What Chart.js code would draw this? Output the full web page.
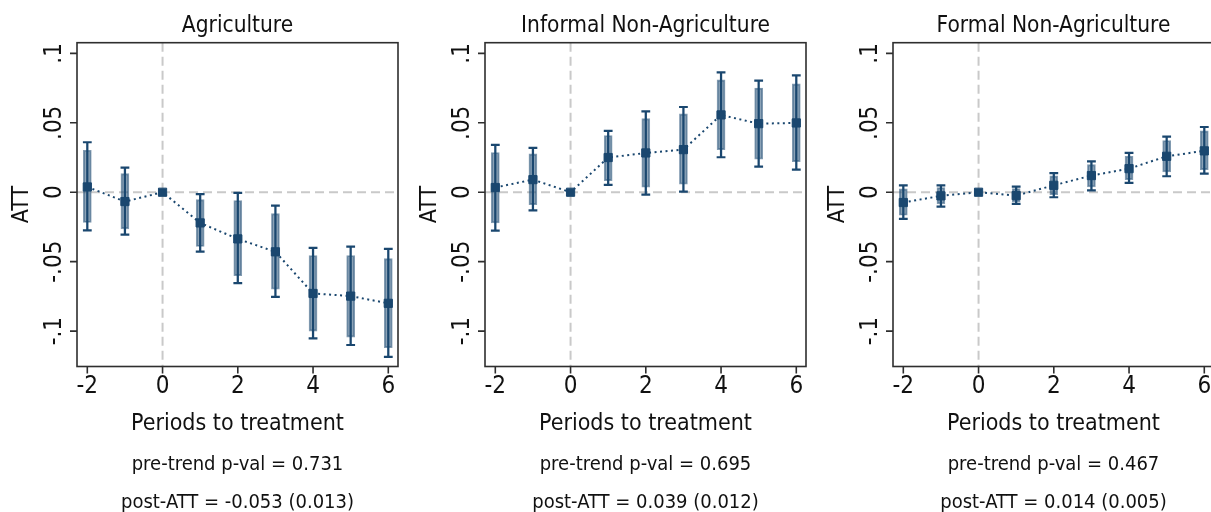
<!DOCTYPE html>
<html>
<head>
<meta charset="utf-8">
<title>Event-study estimates by sector</title>
<script src="https://cdn.jsdelivr.net/npm/chart.js@4.4.0/dist/chart.umd.min.js"></script>
<style>
  html, body { margin: 0; padding: 0; background: #fff; }
  #figure { position: relative; width: 1211px; height: 512px; overflow: hidden; background: #fff; }
  .panel { position: absolute; top: 0; width: 410px; height: 512px; }
</style>
</head>
<body>
<div id="figure">
  <div class="panel" style="left:0px"><canvas id="panel-agri"></canvas></div>
  <div class="panel" style="left:408px"><canvas id="panel-informal"></canvas></div>
  <div class="panel" style="left:816px"><canvas id="panel-formal"></canvas></div>
</div>
<script>
// event time (periods relative to treatment)
const periods = [-2, -1, 0, 1, 2, 3, 4, 5, 6];

// Agriculture
const agriAtt    = [0.0038, -0.0067, 0, -0.0221, -0.0336, -0.0429, -0.0729, -0.0748, -0.0800];
const agriCiLo   = [-0.0274, -0.0305, null, -0.0427, -0.0655, -0.0753, -0.1053, -0.1100, -0.1185];
const agriCiHi   = [0.0360, 0.0178, null, -0.0014, -0.0005, -0.0096, -0.0400, -0.0391, -0.0408];
const agriBandLo = [-0.0218, -0.0264, null, -0.0391, -0.0600, -0.0698, -0.1000, -0.1043, -0.1120];
const agriBandHi = [0.0302, 0.0134, null, -0.0053, -0.0060, -0.0154, -0.0456, -0.0456, -0.0478];

// Informal non-agriculture
const infAtt    = [0.0034, 0.0091, 0, 0.0250, 0.0283, 0.0307, 0.0557, 0.0494, 0.0499];
const infCiLo   = [-0.0276, -0.0130, null, 0.0053, -0.0017, 0.0005, 0.0252, 0.0185, 0.0163];
const infCiHi   = [0.0341, 0.0319, null, 0.0442, 0.0583, 0.0614, 0.0864, 0.0804, 0.0842];
const infBandLo = [-0.0221, -0.0089, null, 0.0084, 0.0036, 0.0058, 0.0307, 0.0238, 0.0221];
const infBandHi = [0.0286, 0.0276, null, 0.0408, 0.0530, 0.0564, 0.0809, 0.0751, 0.0780];

// Formal non-agriculture
const forAtt    = [-0.0074, -0.0026, 0, -0.0024, 0.0050, 0.0120, 0.0170, 0.0259, 0.0298];
const forCiLo   = [-0.0192, -0.0103, null, -0.0084, -0.0036, 0.0014, 0.0067, 0.0115, 0.0134];
const forCiHi   = [0.0050, 0.0050, null, 0.0041, 0.0137, 0.0223, 0.0283, 0.0400, 0.0470];
const forBandLo = [-0.0166, -0.0084, null, -0.0070, -0.0017, 0.0038, 0.0091, 0.0146, 0.0163];
const forBandHi = [0.0024, 0.0034, null, 0.0026, 0.0118, 0.0199, 0.0259, 0.0372, 0.0442];

// axes
const xTickValues = [-2, 0, 2, 4, 6];
const yTickValues = [-0.1, -0.05, 0, 0.05, 0.1];
const yTickLabels = ['-.1', '-.05', '0', '.05', '.1'];

const navy = '#1a476f';
const fontFamily = '"DejaVu Sans Condensed", "DejaVu Sans", sans-serif';

// frame, ticks, reference lines and all text, Stata style
const stataFrame = {
  id: 'stataFrame',
  beforeDatasetsDraw(chart) {
    const { ctx, chartArea: a, scales: { x, y } } = chart;
    const x0 = x.getPixelForValue(0);
    const y0 = y.getPixelForValue(0);
    ctx.save();
    ctx.strokeStyle = '#c9c9c9';
    ctx.lineWidth = 2;
    ctx.setLineDash([9, 5]);
    ctx.beginPath();
    ctx.moveTo(a.left, y0); ctx.lineTo(a.right, y0);
    ctx.moveTo(x0, a.top); ctx.lineTo(x0, a.bottom);
    ctx.stroke();
    ctx.restore();
  },
  afterDraw(chart, args, opts) {
    const { ctx, chartArea: a, scales: { x, y } } = chart;
    ctx.save();

    // box + tick marks
    ctx.strokeStyle = '#2e2e2e';
    ctx.lineWidth = 1.6;
    ctx.strokeRect(a.left, a.top, a.right - a.left, a.bottom - a.top);
    ctx.beginPath();
    yTickValues.forEach(v => {
      const py = y.getPixelForValue(v);
      ctx.moveTo(a.left - 7, py); ctx.lineTo(a.left, py);
    });
    xTickValues.forEach(v => {
      const px = x.getPixelForValue(v);
      ctx.moveTo(px, a.bottom); ctx.lineTo(px, a.bottom + 7);
    });
    ctx.stroke();

    ctx.fillStyle = '#111';
    ctx.textAlign = 'center';
    ctx.textBaseline = 'alphabetic';

    // x tick labels
    ctx.font = `24px ${fontFamily}`;
    xTickValues.forEach(v => ctx.fillText(String(v), x.getPixelForValue(v), a.bottom + 26));

    // y tick labels, rotated
    yTickValues.forEach((v, i) => {
      ctx.save();
      ctx.translate(a.left - 16, y.getPixelForValue(v));
      ctx.rotate(-Math.PI / 2);
      ctx.fillText(yTickLabels[i], 0, 0);
      ctx.restore();
    });

    const cx = (a.left + a.right) / 2;

    // axis titles
    ctx.font = `23px ${fontFamily}`;
    ctx.save();
    ctx.translate(a.left - 49, (a.top + a.bottom) / 2);
    ctx.rotate(-Math.PI / 2);
    ctx.fillText('ATT', 0, 0);
    ctx.restore();
    ctx.fillText('Periods to treatment', cx, a.bottom + 63.5);

    // panel title
    ctx.font = `22.5px ${fontFamily}`;
    ctx.fillText(opts.title, cx, a.top - 11);

    // notes
    ctx.font = `20px ${fontFamily}`;
    ctx.fillText(opts.notes[0], cx, a.bottom + 103);
    ctx.fillText(opts.notes[1], cx, a.bottom + 141);

    ctx.restore();
  }
};

function makePanel(canvasId, title, notes, att, ciLo, ciHi, bandLo, bandHi) {
  const withCi = periods.map((p, i) => i).filter(i => ciLo[i] !== null);

  const estimates = periods.map((p, i) => ({ x: p, y: att[i] }));
  const spikes = withCi.map(i => ({ x: periods[i], y: [ciLo[i], ciHi[i]] }));
  const bands = withCi.map(i => ({ x: periods[i], y: [bandLo[i], bandHi[i]] }));
  const caps = [];
  withCi.forEach(i => {
    caps.push({ x: periods[i], y: ciHi[i] });
    caps.push({ x: periods[i], y: ciLo[i] });
  });

  return new Chart(document.getElementById(canvasId), {
    type: 'scatter',
    data: {
      datasets: [
        {
          // point estimates joined by a dotted line
          data: estimates,
          showLine: true,
          borderColor: navy,
          borderWidth: 2,
          borderDash: [2, 3.5],
          pointStyle: 'rect',
          pointRadius: 5.8,
          pointBackgroundColor: navy,
          pointBorderColor: navy,
          pointBorderWidth: 1
        },
        {
          // caps of the outer interval
          data: caps,
          pointStyle: 'line',
          pointRadius: 4.4,
          pointBorderColor: navy,
          pointBorderWidth: 2.2
        },
        {
          // inner interval band, translucent so the spike shows through
          type: 'bar',
          data: bands,
          grouped: false,
          barThickness: 8,
          backgroundColor: 'rgba(26, 71, 111, 0.5)',
          borderColor: 'rgba(26, 71, 111, 0.55)',
          borderWidth: 1.2,
          borderSkipped: false
        },
        {
          // outer interval spike
          type: 'bar',
          data: spikes,
          grouped: false,
          barThickness: 1.6,
          backgroundColor: navy,
          borderWidth: 0
        }
      ]
    },
    options: {
      responsive: true,
      maintainAspectRatio: false,
      animation: false,
      events: [],
      layout: { padding: { left: 77, right: 12, top: 42.7, bottom: 145.5 } },
      scales: {
        x: { type: 'linear', min: -2.274, max: 6.258, display: false, offset: false },
        y: { type: 'linear', min: -0.1255, max: 0.1077, display: false }
      },
      plugins: {
        legend: { display: false },
        tooltip: { enabled: false },
        stataFrame: { title, notes }
      }
    },
    plugins: [stataFrame]
  });
}

makePanel('panel-agri', 'Agriculture',
  ['pre-trend p-val = 0.731', 'post-ATT = -0.053 (0.013)'],
  agriAtt, agriCiLo, agriCiHi, agriBandLo, agriBandHi);

makePanel('panel-informal', 'Informal Non-Agriculture',
  ['pre-trend p-val = 0.695', 'post-ATT = 0.039 (0.012)'],
  infAtt, infCiLo, infCiHi, infBandLo, infBandHi);

makePanel('panel-formal', 'Formal Non-Agriculture',
  ['pre-trend p-val = 0.467', 'post-ATT = 0.014 (0.005)'],
  forAtt, forCiLo, forCiHi, forBandLo, forBandHi);
</script>
</body>
</html>
